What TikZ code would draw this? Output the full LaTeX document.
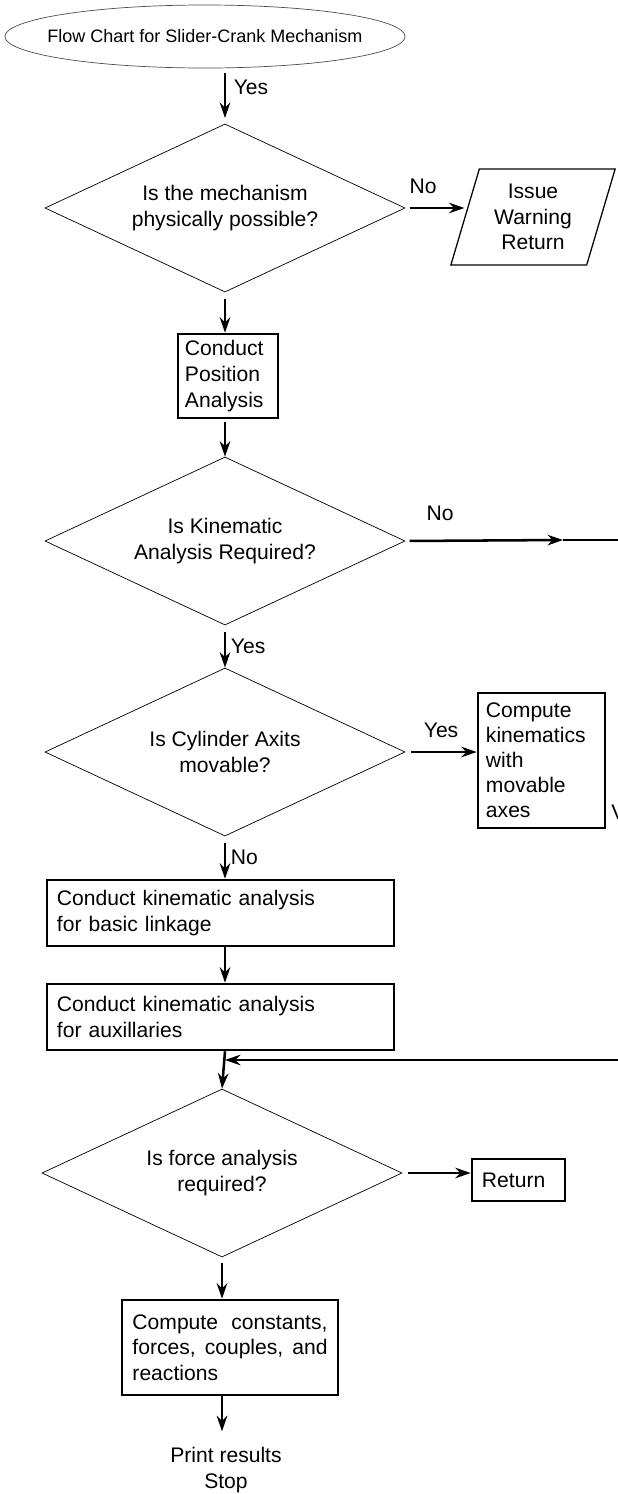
\documentclass[tikz,border=0pt]{standalone}
\usepackage{fontspec}
\setmainfont{Liberation Sans}
\usetikzlibrary{shapes.geometric,positioning,arrows.meta}

\begin{document}
\begin{tikzpicture}[x=0.025cm,y=-0.025cm,
  font=\fontsize{15}{18.3}\selectfont,
  decide/.style={diamond,draw,line width=0.5pt,inner sep=0pt,shape aspect=2.14,minimum width=9cm,minimum height=4.2cm,align=center},
  proc/.style={rectangle,draw,line width=1.8pt,inner sep=0pt,align=left},
  flow/.style={-{Stealth[length=11pt,width=7.5pt]},line width=1.8pt},
  plain/.style={line width=1.8pt}]
\useasboundingbox (0,0) rectangle (618,1494);

% Start
\node[ellipse,draw=black!70,line width=0.5pt,minimum width=10cm,minimum height=1.575cm,font=\fontsize{12.8}{15}\selectfont] (start) at (205,36.5) {\makebox[0pt]{Flow Chart for Slider-Crank Mechanism}};

% Possible?
\node[decide] (possible) at (225,208) {Is the mechanism\\physically possible?};
\node[trapezium,trapezium left angle=73,trapezium right angle=107,trapezium stretches=true,draw,line width=0.9pt,align=center,minimum width=4.125cm,minimum height=2.4cm] (warn) at (533,217) {Issue\\Warning\\Return};

% Position analysis
\node[proc,minimum width=2.5cm,minimum height=2.1cm,text width=2.15cm] (position) at (228,376) {Conduct\\Position\\Analysis};

% Kinematic analysis?
\node[decide] (kinreq) at (225,541) {Is Kinematic\\Analysis Required?};
\coordinate (kinmid) at (563,540);
\coordinate (kinout) at (618,540);

% Cylinder axis?
\node[decide] (cylinder) at (225,752) {Is Cylinder Axits\\movable?};
\node[proc,minimum width=3.175cm,minimum height=3.375cm,text width=2.775cm,font=\fontsize{15}{17.8}\selectfont] (movable) at (541.5,760.5) {Compute\\kinematics\\with\\movable\\axes};

% Basic linkage, auxillaries
\node[proc,minimum width=8.675cm,minimum height=1.65cm,text width=8.175cm] (linkage) at (220.5,913) {Conduct kinematic analysis\\for basic linkage};
\node[proc,minimum width=8.675cm,minimum height=1.65cm,text width=8.175cm] (aux) at (220.5,1017) {Conduct kinematic analysis\\for auxillaries};
\coordinate (backin) at (618,1060);

% Force analysis?
\node[decide] (force) at (222,1173) {Is force analysis\\required?};
\node[proc,minimum width=2.325cm,minimum height=1.05cm,text width=1.825cm] (ret) at (518.5,1180) {Return};

% Constants, results
\node[proc,minimum width=5.4cm,minimum height=2.375cm,text width=4.875cm,align=justify] (consts) at (230,1347.5) {\hyphenpenalty=10000\relax Compute constants, forces, couples, and reactions};
\node[align=center] (print) at (226,1470) {Print results\\Stop};

% V
\node[anchor=west,inner sep=0pt] (cut) at (611,812) {V};

% Arrows
\draw[flow,shorten <=3pt,shorten >=4pt] (start.south -| possible.north) -- node[right,pos=0.35,xshift=2pt] {Yes} (possible.north);
\draw[flow,shorten <=3pt] (possible.east) -- node[above,pos=0.3,yshift=6pt] {No} (warn.west |- possible.east);
\draw[flow,shorten <=5pt] (possible.south) -- (possible.south |- position.north);
\draw[flow,shorten <=2pt] (position.south -| kinreq.north) -- (kinreq.north);
\draw[flow,shorten <=3pt] (kinreq.east) -- node[above,pos=0.22,yshift=10pt] {No} (kinmid);
\draw[plain] (kinmid) -- (kinout);
\draw[flow,shorten <=5pt] (kinreq.south) -- node[right] {Yes} (cylinder.north);
\draw[flow,shorten <=4pt] (cylinder.east) -- node[above,yshift=6pt] {Yes} (movable.west |- cylinder.east);
\draw[flow,shorten <=5pt] (cylinder.south) -- node[right] {No} (cylinder.south |- linkage.north);
\draw[flow] (linkage.south -| cylinder.south) -- (cylinder.south |- aux.north);
\draw[flow] (backin) -- (cylinder.south |- backin);
\draw[flow] (aux.south -| cylinder.south) -- (force.north);
\draw[flow,shorten <=4pt] (force.east) -- (ret.west |- force.east);
\draw[flow,shorten <=4pt] (force.south) -- (force.south |- consts.north);
\draw[flow] (consts.south -| force.south) -- ++(0,35);
\end{tikzpicture}
\end{document}
